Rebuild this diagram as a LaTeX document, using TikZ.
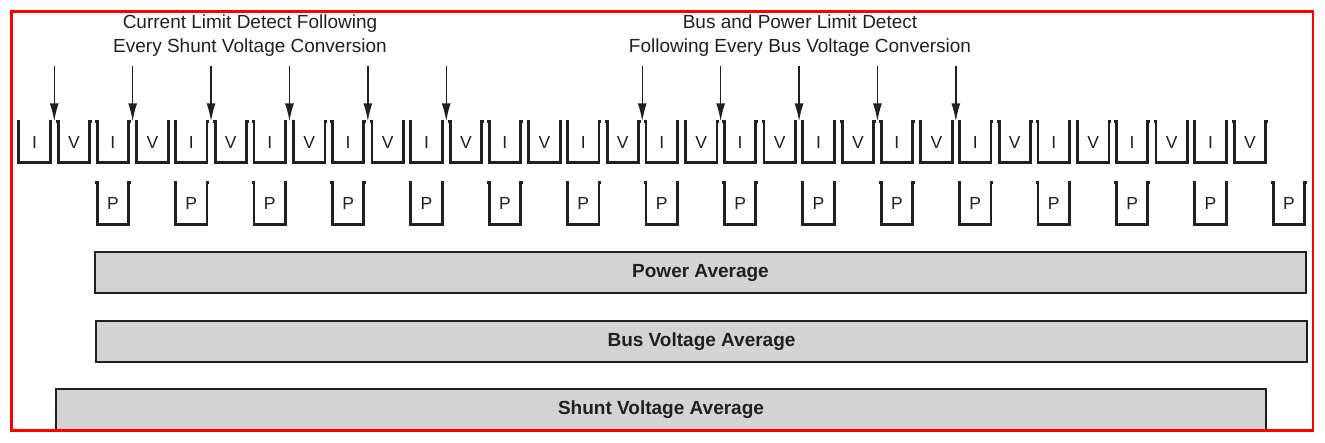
\documentclass[tikz,border=0pt]{standalone}
\usepackage{fontspec}
\setmainfont{Liberation Sans}
\usetikzlibrary{arrows.meta,calc,positioning}
\definecolor{CupBlack}{RGB}{35,31,32}
\definecolor{BarGray}{RGB}{211,211,211}
\definecolor{FrameRed}{RGB}{255,0,0}

\tikzset{
  cupbox/.style={minimum width=31pt, minimum height=41pt, inner sep=0pt,
    font=\fontsize{17.5}{20}\selectfont, text=CupBlack},
  cupline/.style={line width=2.8pt, CupBlack},
  avgbar/.style={draw=CupBlack, line width=2pt, fill=BarGray, minimum height=41pt,
    inner sep=0pt, font=\bfseries\fontsize{19}{22}\selectfont, text=CupBlack},
  caption/.style={align=center, font=\fontsize{19}{24}\selectfont, text=CupBlack},
  detect/.style={-{Latex[length=18pt,width=9pt]}, line width=1.4pt, CupBlack}
}
\newcommand{\drawcup}[1]{%
  \draw[cupline] ($(#1.north west)+(-2,0)$) -- (#1.north west) -- (#1.south west)
    -- (#1.south east) -- (#1.north east) -- ++(2,0);}

\begin{document}
\begin{tikzpicture}[x=1pt, y=-1pt]
    \useasboundingbox (0,0) rectangle (1325,442);
    % Conversion slots: shunt (I) and bus (V)
    \foreach \k in {0,...,15} {
        \node[cupbox] (i\k) at ({34.5+78.4*\k},142) {I};
        \node[cupbox] (v\k) at ({74+78.4*\k},142) {V};
        \drawcup{i\k}
        \drawcup{v\k}
    }
    % Power calculation slots
    \foreach \k in {1,...,16} {
        \node[cupbox] (p\k) at ({34.5+78.4*\k},203.5) {P};
        \drawcup{p\k}
    }
    % Limit detect captions
    \node[caption] (shuntcap) at (250,36) {Current Limit Detect Following\\Every Shunt Voltage Conversion};
    \node[caption] (buscap) at (800,36) {Bus and Power Limit Detect\\Following Every Bus Voltage Conversion};
    % Detect arrows after each shunt conversion
    \foreach \k in {0,...,5} {
        \coordinate (sg\k) at ($(i\k.north east)!0.5!(v\k.north west)$);
        \coordinate (st\k) at ($(sg\k)+(0,-55)$);
        \draw[detect] (st\k) -- (sg\k);
    }
    % Detect arrows after each bus conversion
    \foreach \k in {7,...,11} {
        \pgfmathtruncatemacro{\n}{\k+1}
        \coordinate (bg\k) at ($(v\k.north east)!0.5!(i\n.north west)$);
        \coordinate (bt\k) at ($(bg\k)+(0,-55)$);
        \draw[detect] (bt\k) -- (bg\k);
    }
    % Averages
    \node[avgbar, minimum width=1211pt] (pwravg) at (700.5,272.5) {Power Average};
    \node[avgbar, minimum width=1211pt] (busavg) at (701.5,341.5) {Bus Voltage Average};
    \node[avgbar, minimum width=1210pt] (shuntavg) at (661,409.5) {Shunt Voltage Average};
    % Frame
    \draw[FrameRed, line width=2.5pt] (11.5,11.5) rectangle (1313,430.5);
\end{tikzpicture}
\end{document}
